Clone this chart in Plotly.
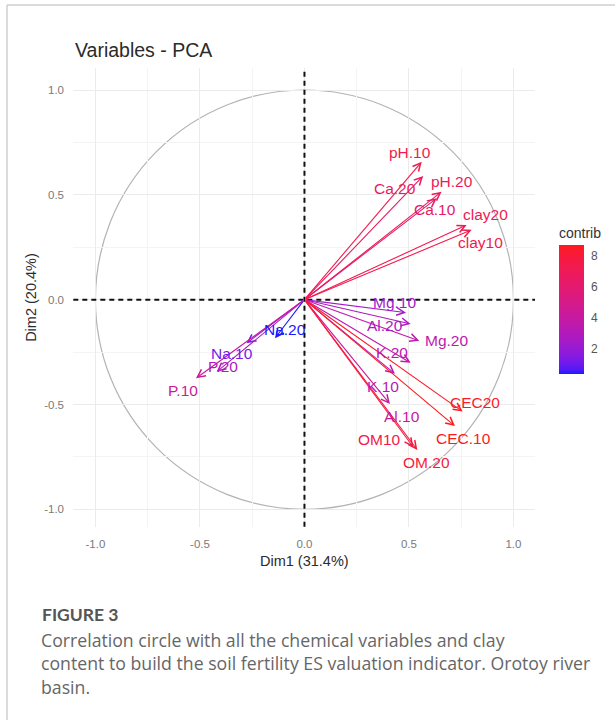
import numpy as np
import plotly.graph_objects as go

# ---------------- data ----------------
variables = ["pH.10", "Ca.20", "pH.20", "Ca.10", "clay20", "clay10",
             "Mg.10", "Al.20", "Mg.20", "K.20", "K.10", "Al.10",
             "CEC20", "CEC.10", "OM10", "OM.20",
             "Na.20", "Na.10", "P.20", "P.10"]
dim1 = [0.561, 0.568, 0.656, 0.633, 0.776, 0.800,
        0.486, 0.508, 0.549, 0.508, 0.433, 0.409,
        0.757, 0.720, 0.521, 0.540,
        -0.141, -0.277, -0.420, -0.519]
dim2 = [0.658, 0.590, 0.515, 0.484, 0.356, 0.333,
        -0.062, -0.116, -0.196, -0.301, -0.354, -0.498,
        -0.534, -0.603, -0.704, -0.717,
        -0.184, -0.208, -0.344, -0.375]
contrib = [7.4, 6.7, 7.0, 6.3, 7.2, 7.4,
           2.4, 2.8, 3.5, 3.6, 3.1, 4.2,
           8.5, 8.73, 7.6, 8.0,
           0.36, 1.2, 2.9, 4.3]
axis_ticks = [-1.0, -0.5, 0.0, 0.5, 1.0]
axis_ticktext = ["-1.0", "-0.5", "0.0", "0.5", "1.0"]
minor_ticks = [-0.75, -0.25, 0.25, 0.75]
cbar_ticks = [2, 4, 6, 8]

# label placement (repelled text positions, in data units)
label_pos = {
    "pH.10": (0.505, 0.701), "Ca.20": (0.433, 0.531), "pH.20": (0.704, 0.563),
    "Ca.10": (0.624, 0.428), "clay20": (0.864, 0.407), "clay10": (0.840, 0.272),
    "Mg.10": (0.430, -0.014), "Al.20": (0.385, -0.121), "Mg.20": (0.680, -0.196),
    "K.20": (0.417, -0.253), "K.10": (0.376, -0.412), "Al.10": (0.465, -0.558),
    "CEC20": (0.816, -0.491), "CEC.10": (0.760, -0.661), "OM10": (0.361, -0.669),
    "OM.20": (0.585, -0.776), "Na.20": (-0.093, -0.141), "Na.10": (-0.348, -0.256),
    "P.20": (-0.389, -0.320), "P.10": (-0.580, -0.431),
}

# ---------------- colour gradient (blue -> red in Lab, like ggplot) ----------------
M = np.array([[0.4124564, 0.3575761, 0.1804375],
              [0.2126729, 0.7151522, 0.0721750],
              [0.0193339, 0.1191920, 0.9503041]])
WHITE = np.array([0.95047, 1.0, 1.08883])
LIGHTEN = 0.10


def rgb2lab(rgb):
    c = np.array(rgb, float) / 255.0
    lin = np.where(c <= 0.04045, c / 12.92, ((c + 0.055) / 1.055) ** 2.4)
    xyz = M @ lin / WHITE
    d = 6 / 29
    f = np.where(xyz > d ** 3, np.cbrt(xyz), xyz / (3 * d * d) + 4 / 29)
    return np.array([116 * f[1] - 16, 500 * (f[0] - f[1]), 200 * (f[1] - f[2])])


def lab2hex(lab):
    L, a, b = lab
    fy = (L + 16) / 116
    f = np.array([fy + a / 500, fy, fy - b / 200])
    d = 6 / 29
    xyz = np.where(f > d, f ** 3, 3 * d * d * (f - 4 / 29)) * WHITE
    lin = np.clip(np.linalg.solve(M, xyz), 0, 1)
    s = np.where(lin <= 0.0031308, 12.92 * lin, 1.055 * lin ** (1 / 2.4) - 0.055)
    s = np.clip(s, 0, 1)
    s = s * (1 - LIGHTEN) + LIGHTEN
    return "#%02x%02x%02x" % tuple(int(round(v * 255)) for v in s)


LAB_LO = rgb2lab((0, 0, 255))
LAB_HI = rgb2lab((255, 0, 0))


def grad(t):
    return lab2hex(LAB_LO + (LAB_HI - LAB_LO) * t)


colorscale = [[t, grad(t)] for t in np.linspace(0, 1, 31)]
cmin, cmax = min(contrib), max(contrib)
cols = [grad((c - cmin) / (cmax - cmin)) for c in contrib]

# ---------------- layout geometry ----------------
W, H = 615, 720
px_l, px_r, px_t, px_b = 73.3, 535.0, 68.0, 526.7
TEXT = "Liberation Sans, Arial, sans-serif"

fig = go.Figure()

# invisible trace carrying the colour bar
fig.add_trace(go.Scatter(
    x=dim1, y=dim2, mode="markers", hoverinfo="skip", showlegend=False,
    marker=dict(size=1, opacity=0, color=contrib, colorscale=colorscale,
                cmin=cmin, cmax=cmax, showscale=True,
                colorbar=dict(
                    title=dict(text="contrib", side="top",
                               font=dict(family=TEXT, size=14, color="#333333")),
                    x=559.0 / W, xanchor="left", xpad=0,
                    y=1 - 374 / H, yanchor="bottom", ypad=0,
                    len=150, lenmode="pixels", thickness=25,
                    outlinewidth=0, tickvals=cbar_ticks,
                    ticks="outside", ticklen=5, tickcolor="rgba(255,255,255,0)",
                    tickfont=dict(family=TEXT, size=12, color="#555555"),
                ))))

# arrows
for i, v in enumerate(variables):
    fig.add_annotation(x=dim1[i], y=dim2[i], ax=0, ay=0,
                       xref="x", yref="y", axref="x", ayref="y",
                       text="", showarrow=True, arrowhead=5,
                       arrowsize=1.4, arrowwidth=1.1, arrowcolor=cols[i],
                       standoff=0)
# labels
for i, v in enumerate(variables):
    lx, ly = label_pos[v]
    fig.add_annotation(x=lx, y=ly, xref="x", yref="y", text=v, showarrow=False,
                       xanchor="center", yanchor="middle",
                       font=dict(family=TEXT, size=15.5, color=cols[i]))

# correlation circle & dashed axes
fig.add_shape(type="circle", xref="x", yref="y", x0=-1, y0=-1, x1=1, y1=1,
              line=dict(color="#B3B3B3", width=1.2), layer="below")
fig.add_shape(type="line", xref="x", yref="y domain", x0=0, x1=0, y0=0, y1=1,
              line=dict(color="#111111", width=2, dash="5px,4px"), layer="above")
fig.add_shape(type="line", xref="x domain", yref="y", x0=0, x1=1, y0=0, y1=0,
              line=dict(color="#111111", width=2, dash="5px,4px"), layer="above")

# page border (left & top)
fig.add_shape(type="line", xref="paper", yref="paper", x0=7 / W, x1=1,
              y0=1 - 5 / H, y1=1 - 5 / H, line=dict(color="#CFCFCF", width=1.5))
fig.add_shape(type="line", xref="paper", yref="paper", x0=7 / W, x1=7 / W,
              y0=0, y1=1 - 5 / H, line=dict(color="#CFCFCF", width=1.5))

# titles
fig.add_annotation(xref="paper", yref="paper", x=73 / W, y=1 - 50 / H,
                   xanchor="left", yanchor="middle", showarrow=False,
                   text="Variables - PCA",
                   font=dict(family=TEXT, size=19.5, color="#2b2b2b"))
fig.add_annotation(xref="paper", yref="paper", x=(px_l + px_r) / 2 / W, y=1 - 561 / H,
                   xanchor="center", yanchor="middle", showarrow=False,
                   text="Dim1 (31.4%)",
                   font=dict(family=TEXT, size=14.5, color="#2b2b2b"))
fig.add_annotation(xref="paper", yref="paper", x=31.5 / W, y=1 - (px_t + px_b) / 2 / H,
                   xanchor="center", yanchor="middle", showarrow=False, textangle=-90,
                   text="Dim2 (20.4%)",
                   font=dict(family=TEXT, size=14.5, color="#2b2b2b"))

# caption
CAP = "Open Sans, Lato, sans-serif"
fig.add_annotation(xref="paper", yref="paper", x=40 / W, y=1 - 614 / H,
                   xanchor="left", yanchor="middle", showarrow=False,
                   text="<b>FIGURE 3</b>",
                   font=dict(family="Lato, Open Sans, sans-serif", size=17.5, color="#555555"))
caption_lines = [
    "Correlation circle with all the chemical variables and clay",
    "content to build the soil fertility ES valuation indicator. Orotoy river",
    "basin.",
]
for k, line in enumerate(caption_lines):
    fig.add_annotation(xref="paper", yref="paper", x=39 / W, y=1 - (640 + 23.3 * k) / H,
                       xanchor="left", yanchor="middle", showarrow=False,
                       text=line, font=dict(family=CAP, size=17.7, color="#666666"))

axis_common = dict(
    tickvals=axis_ticks, ticktext=axis_ticktext,
    tickfont=dict(family=TEXT, size=11.5, color="#7a7a7a"),
    ticks="outside", ticklen=6, tickcolor="rgba(0,0,0,0)",
    showgrid=True, gridcolor="#EBEBEB", gridwidth=1.2,
    zeroline=False, showline=False,
    minor=dict(tickmode="array", tickvals=minor_ticks, showgrid=True,
               gridcolor="#F4F4F4", gridwidth=0.8),
)

fig.update_layout(
    width=W, height=H, margin=dict(l=0, r=0, t=0, b=0),
    paper_bgcolor="white", plot_bgcolor="white", showlegend=False,
    xaxis=dict(domain=[px_l / W, px_r / W], range=[-1.106, 1.103], **axis_common),
    yaxis=dict(domain=[1 - px_b / H, 1 - px_t / H], range=[-1.083, 1.105], **axis_common),
)

fig.write_html("out.html", config={"displayModeBar": False},
               post_script="document.body.style.margin='0';document.body.style.overflow='hidden';")
